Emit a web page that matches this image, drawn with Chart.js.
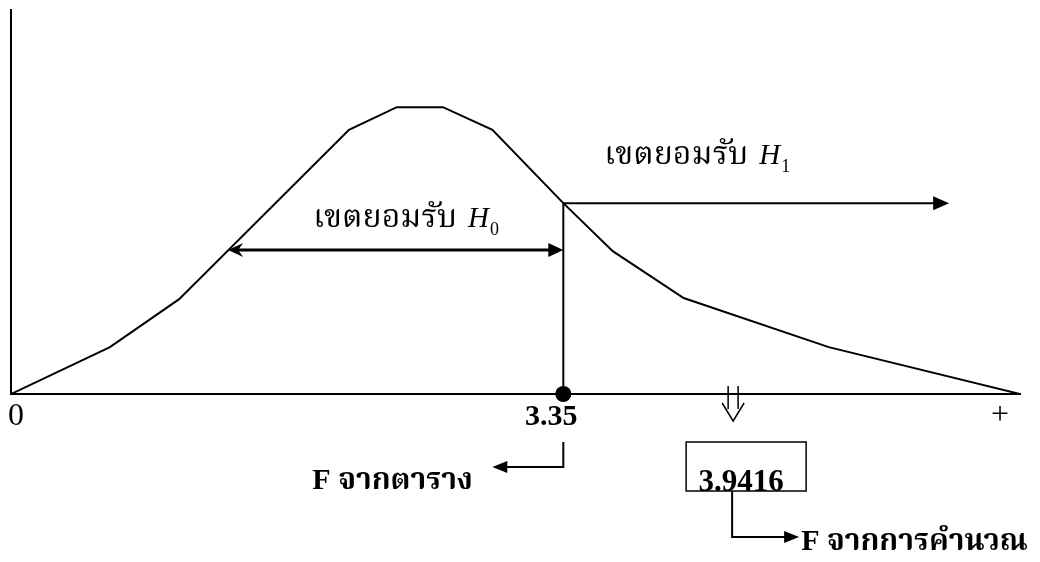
<!DOCTYPE html>
<html>
<head>
<meta charset="utf-8">
<title>F distribution</title>
<script src="https://cdn.jsdelivr.net/npm/chart.js@4.4.1/dist/chart.umd.min.js"></script>
<style>
    html, body { margin: 0; padding: 0; background: #fff; }
    #wrap { width: 1040px; height: 562px; }
</style>
</head>
<body>
<div id="wrap"><canvas id="myChart" width="1040" height="562"></canvas></div>
<script>
// curve (x in F units, y in arbitrary height units)
const curveX = [0, 0.60, 1.02, 2.05, 2.34, 2.62, 2.92, 3.35, 3.65, 4.08, 4.96, 6.12];
const curveY = [0, 1.22, 2.47, 6.88, 7.47, 7.47, 6.88, 4.97, 3.72, 2.50, 1.22, 0];
const fTable = 3.35;       // F จากตาราง
const fCalc = '3.9416';    // F จากการคำนวณ
const fCalcMark = 4.38;    // where the arrow sits on the axis (the sketch is not to scale)
const critY = 4.97;        // curve height at fTable
const h0Level = 3.75;      // height of the H0 arrow
const h0From = 1.317;
const h1To = 5.69;
const xMax = 6.12;
const yMax = 10;
const tickLabels = ['0', '3.35', '+'];
const regionLabel = 'เขตยอมรับ';
const tableLabel = 'F จากตาราง';
const calcLabel = 'F จากการคำนวณ';

const SERIF = "'Liberation Serif', 'Noto Serif Thai', 'Noto Sans Thai', Norasi, serif";

function pts(xs, ys) {
    return xs.map((x, i) => ({x: x, y: ys[i]}));
}

function head(ctx, x, y, dir, len, half) {
    // filled triangle arrow head, dir = +1 right / -1 left
    ctx.beginPath();
    ctx.moveTo(x, y);
    ctx.lineTo(x - dir * len, y - half);
    ctx.lineTo(x - dir * len, y + half);
    ctx.closePath();
    ctx.fill();
}

function regionText(ctx, x, base, sub) {
    ctx.font = '32px ' + SERIF;
    ctx.textAlign = 'left';
    ctx.textBaseline = 'alphabetic';
    ctx.fillText(regionLabel, x, base);
    let w = ctx.measureText(regionLabel + ' ').width;
    ctx.font = 'italic 29px ' + SERIF;
    ctx.fillText('H', x + w + 3, base);
    let wh = ctx.measureText('H').width;
    ctx.font = '18px ' + SERIF;
    ctx.fillText(sub, x + w + 3 + wh + 1, base + 8);
}

const sketch = {
    id: 'sketch',
    afterDatasetsDraw(chart) {
        const ctx = chart.ctx;
        const sx = chart.scales.x, sy = chart.scales.y;
        const px = v => sx.getPixelForValue(v);
        const py = v => sy.getPixelForValue(v);
        const y0 = py(0);
        const xt = px(fTable);
        ctx.save();
        ctx.fillStyle = '#000';
        ctx.strokeStyle = '#000';

        // arrow heads on the region arrows
        head(ctx, px(h1To), py(critY), 1, 16, 7);
        head(ctx, xt, py(h0Level), 1, 15, 7);
        // left head of H0 arrow, barbed
        let lx = px(h0From), ly = py(h0Level);
        ctx.beginPath();
        ctx.moveTo(lx, ly);
        ctx.lineTo(lx + 15, ly - 7);
        ctx.lineTo(lx + 10, ly);
        ctx.lineTo(lx + 15, ly + 7);
        ctx.closePath();
        ctx.fill();

        regionText(ctx, px(h0From) + 85, py(h0Level) - 23, '0');
        regionText(ctx, xt + 41, py(critY) - 39, '1');

        // axis labels
        ctx.textBaseline = 'alphabetic';
        ctx.font = '32px ' + SERIF;
        ctx.textAlign = 'left';
        ctx.fillText(tickLabels[0], px(0) - 3, y0 + 31);
        ctx.font = 'bold 30px ' + SERIF;
        ctx.textAlign = 'center';
        ctx.fillText(tickLabels[1], xt - 12, y0 + 31);
        ctx.font = '32px ' + SERIF;
        ctx.fillText(tickLabels[2], px(xMax) - 20, y0 + 30);

        // double arrow pointing to the calculated F
        const dx = px(fCalcMark);
        ctx.lineWidth = 1.5;
        ctx.beginPath();
        ctx.moveTo(dx - 5, y0 - 8);
        ctx.lineTo(dx - 5, y0 + 15);
        ctx.moveTo(dx + 5, y0 - 8);
        ctx.lineTo(dx + 5, y0 + 15);
        ctx.moveTo(dx - 11, y0 + 9);
        ctx.lineTo(dx, y0 + 27);
        ctx.lineTo(dx + 11, y0 + 9);
        ctx.stroke();

        // box with calculated value
        const bx = dx + 13, bTop = y0 + 48, bW = 120, bH = 49;
        ctx.lineWidth = 1.5;
        ctx.strokeRect(bx - bW / 2, bTop, bW, bH);
        ctx.font = 'bold 31px ' + SERIF;
        ctx.fillText(fCalc, bx - 5, bTop + bH);

        // corner arrow: F from table
        ctx.lineWidth = 2;
        ctx.beginPath();
        ctx.moveTo(xt, y0 + 48);
        ctx.lineTo(xt, y0 + 73);
        ctx.lineTo(xt - 60, y0 + 73);
        ctx.stroke();
        head(ctx, xt - 71, y0 + 73, -1, 15, 6);
        ctx.font = 'bold 30px ' + SERIF;
        ctx.textAlign = 'left';
        ctx.fillText(tableLabel, xt - 251, y0 + 95);

        // corner arrow: F calculated
        const cx = bx - 14;
        ctx.beginPath();
        ctx.moveTo(cx, bTop + bH);
        ctx.lineTo(cx, y0 + 143);
        ctx.lineTo(cx + 56, y0 + 143);
        ctx.stroke();
        head(ctx, cx + 67, y0 + 143, 1, 15, 6);
        ctx.fillText(calcLabel, cx + 69, y0 + 156);
        ctx.restore();
    }
};

const ctx = document.getElementById('myChart').getContext('2d');
const myChart = new Chart(ctx, {
    type: 'line',
    data: {
        datasets: [
            {data: pts(curveX, curveY), borderColor: '#000', borderWidth: 2, pointRadius: 0, tension: 0},
            {data: pts([fTable, fTable], [0, critY]), borderColor: '#000', borderWidth: 2, pointRadius: 0},
            {data: pts([fTable, h1To - 0.08], [critY, critY]), borderColor: '#000', borderWidth: 2, pointRadius: 0},
            {data: pts([h0From + 0.05, fTable - 0.08], [h0Level, h0Level]), borderColor: '#000', borderWidth: 3, pointRadius: 0},
            {data: pts([fTable], [0]), showLine: false, pointRadius: 8, pointBackgroundColor: '#000', pointBorderWidth: 0, clip: false}
        ]
    },
    options: {
        responsive: false,
        animation: false,
        events: [],
        layout: {padding: {left: 3, top: 10, right: 20, bottom: 160}},
        plugins: {legend: {display: false}, tooltip: {enabled: false}},
        scales: {
            x: {
                type: 'linear', min: 0, max: xMax,
                grid: {display: false},
                ticks: {display: false},
                border: {display: true, color: '#000', width: 2}
            },
            y: {
                type: 'linear', min: 0, max: yMax,
                grid: {display: false},
                ticks: {display: false},
                border: {display: true, color: '#000', width: 2}
            }
        }
    },
    plugins: [sketch]
});
</script>
</body>
</html>
